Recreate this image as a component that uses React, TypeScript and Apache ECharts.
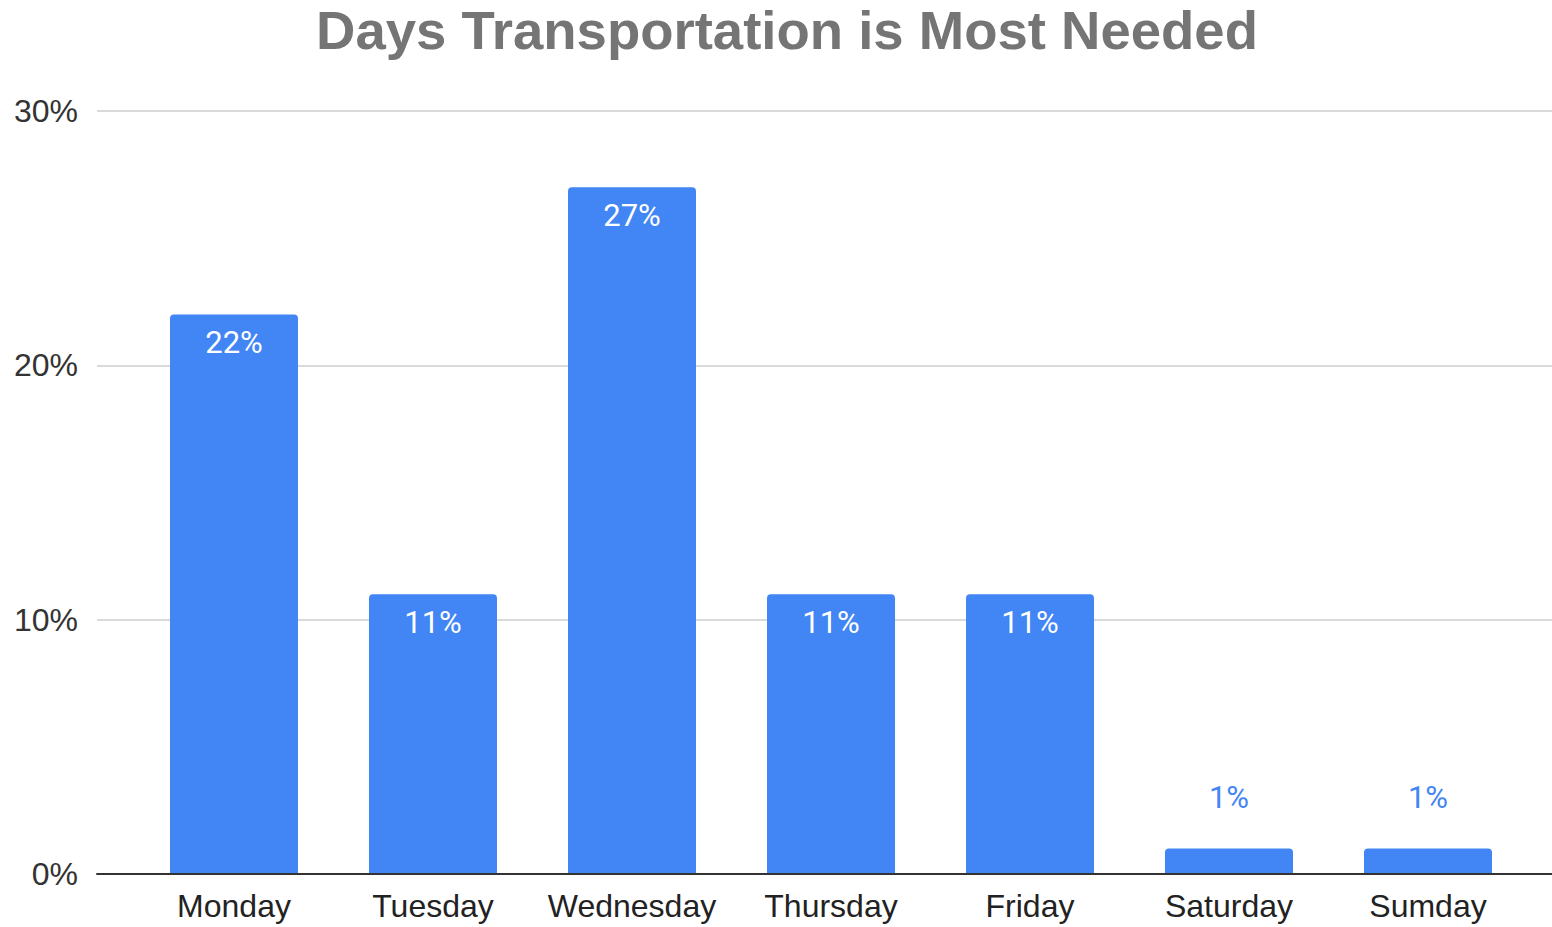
import React, { useEffect, useRef } from "react";
import * as echarts from "echarts";

const TITLE = "Days Transportation is Most Needed";
const categories = ["Monday", "Tuesday", "Wednesday", "Thursday", "Friday", "Saturday", "Sumday"];
const values = [22, 11, 27, 11, 11, 1, 1];
const yTicks = { min: 0, max: 30, interval: 10 };

const BLUE = "#4285f4";

export default function App() {
  const ref = useRef<HTMLDivElement>(null);
  useEffect(() => {
    document.body.style.margin = "0";
    const chart = echarts.init(ref.current!, null, { renderer: "svg" });
    const data = values.map((v) => {
      const inside = v >= 5;
      return {
        value: v,
        label: inside
          ? { position: "insideTop", distance: 13, color: "#ffffff" }
          : { position: "top", distance: 36, color: BLUE },
      };
    });
    chart.setOption({
      animation: false,
      title: {
        text: TITLE,
        left: 782,
        top: -2,
        textAlign: "center",
        textStyle: {
          fontFamily: "Liberation Sans",
          fontWeight: "bold",
          fontSize: 54.5,
          color: "#757575",
        },
      },
      grid: [
        { left: 97, right: 0, top: 111, bottom: 53, containLabel: false },
        { left: 134.5, right: 24.5, top: 111, bottom: 53, containLabel: false },
      ],
      xAxis: [
        {
          gridIndex: 0,
          type: "category",
          data: categories,
          axisLine: { show: true, lineStyle: { color: "#333333", width: 2 } },
          axisTick: { show: false },
          axisLabel: { show: false },
          splitLine: { show: false },
          z: 5,
        },
        {
          gridIndex: 1,
          type: "category",
          data: categories,
          axisLine: { show: false },
          axisTick: { show: false },
          axisLabel: {
            interval: 0,
            margin: 16,
            fontFamily: "Liberation Sans",
            fontSize: 32,
            color: "#222222",
          },
        },
      ],
      yAxis: [
        {
          gridIndex: 0,
          type: "value",
          min: yTicks.min,
          max: yTicks.max,
          interval: yTicks.interval,
          axisLine: { show: false },
          axisTick: { show: false },
          axisLabel: {
            formatter: "{value}%",
            margin: 19,
            fontFamily: "Liberation Sans",
            fontSize: 32,
            color: "#333333",
          },
          splitLine: { show: true, lineStyle: { color: "#cccccc", width: 1.5 } },
        },
        {
          gridIndex: 1,
          type: "value",
          min: yTicks.min,
          max: yTicks.max,
          interval: yTicks.interval,
          axisLine: { show: false },
          axisTick: { show: false },
          axisLabel: { show: false },
          splitLine: { show: false },
        },
      ],
      series: [
        {
          type: "bar",
          xAxisIndex: 1,
          yAxisIndex: 1,
          data,
          barWidth: 128,
          itemStyle: { color: BLUE, borderRadius: [4, 4, 0, 0] },
          label: {
            show: true,
            formatter: "{c}%",
            fontFamily: "Roboto",
            fontSize: 31,
          },
          z: 3,
        },
      ],
    });
    return () => chart.dispose();
  }, []);
  return <div ref={ref} style={{ width: 1552, height: 927 }} />;
}
